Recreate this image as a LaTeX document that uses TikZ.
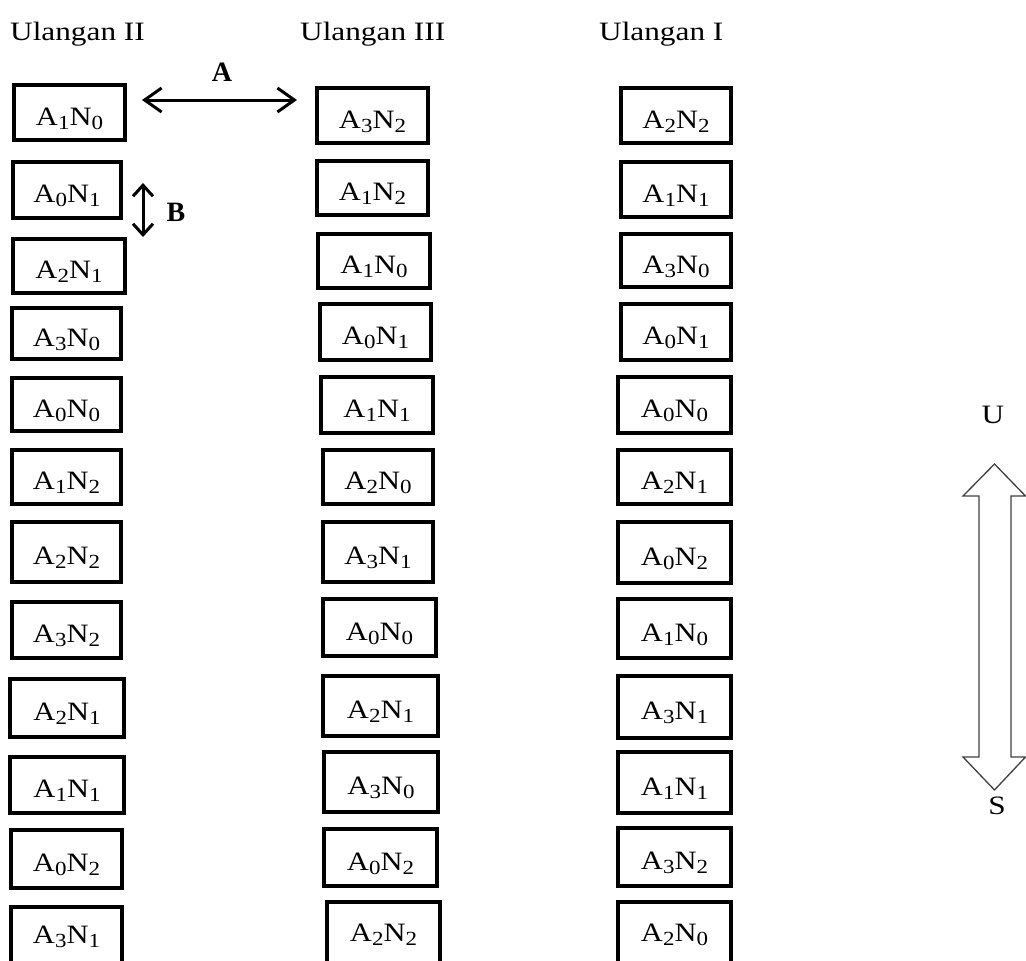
\documentclass[tikz,border=0pt]{standalone}
\usepackage{fontspec}
\setmainfont{Liberation Serif}
\usetikzlibrary{arrows.meta,calc}
\newcommand\subx[1]{\raisebox{-4pt}{\fontsize{20}{21}\selectfont #1}}
\newcommand\AN[2]{\scalebox{1.15}[1]{A\subx{#1}N\subx{#2}}}
\newcommand\cellbox[7][]{\node[cell,minimum width={(#4-#3-3.6)*1pt},minimum height={(#6-#5-3.6)*1pt},#1] (#2) at ({(#3+#4)/2},{(#5+#6)/2}) {#7};}
\tikzset{
  cell/.style={draw, line width=3.6pt, inner sep=0pt, text height=25pt, text depth=0pt, font=\fontsize{26.5}{30}\selectfont},
  lastcell/.style={text height=14pt},
  ttl/.style={inner sep=0pt, anchor=base west, font=\fontsize{26.5}{30}\selectfont},
  side/.style={inner sep=0pt, font=\fontsize{26.5}{30}\selectfont},
  boldlbl/.style={inner sep=0pt, font=\fontsize{28}{32}\selectfont\bfseries},
  dimarrowA/.style={line width=3pt, {Straight Barb[length=17pt,width=24pt]}-{Straight Barb[length=17pt,width=24pt]}},
  dimarrowB/.style={line width=3pt, {Straight Barb[length=11pt,width=20pt]}-{Straight Barb[length=11pt,width=20pt]}},
  hollow/.style={line width=1.3pt, draw=black!75, line join=miter}
}
\begin{document}
\begin{tikzpicture}[x=1pt,y=-1pt]
\useasboundingbox (0,0) rectangle (1026,961);
\clip (0,0) rectangle (1026,961);
\fill[white] (0,0) rectangle (1026,961);
% titles
\node[ttl] (t1) at (10,40) {\scalebox{1.18}[1]{Ulangan II}};
\node[ttl] (t2) at (300,40) {\scalebox{1.18}[1]{Ulangan III}};
\node[ttl] (t3) at (599,40) {\scalebox{1.18}[1]{Ulangan I}};
% column 1
\cellbox{c1r1}{12}{127}{83}{142}{\AN10}
\cellbox{c1r2}{11}{123}{160}{220}{\AN01}
\cellbox{c1r3}{11}{127}{237}{295}{\AN21}
\cellbox{c1r4}{10}{123}{306}{361}{\AN30}
\cellbox{c1r5}{10}{123}{376}{433}{\AN00}
\cellbox{c1r6}{10}{123}{448}{506}{\AN12}
\cellbox{c1r7}{10}{123}{520}{584}{\AN22}
\cellbox{c1r8}{10}{123}{600}{660}{\AN32}
\cellbox{c1r9}{8}{126}{677}{739}{\AN21}
\cellbox{c1r10}{8}{126}{755}{815}{\AN11}
\cellbox{c1r11}{9}{124}{828}{890}{\AN02}
\cellbox[lastcell]{c1r12}{9}{124}{905}{968}{\AN31}
% column 2
\cellbox{c2r1}{315}{430}{86}{145}{\AN32}
\cellbox{c2r2}{315}{430}{159}{217}{\AN12}
\cellbox{c2r3}{316}{432}{232}{290}{\AN10}
\cellbox{c2r4}{318}{433}{302}{362}{\AN01}
\cellbox{c2r5}{319}{435}{375}{435}{\AN11}
\cellbox{c2r6}{321}{435}{448}{506}{\AN20}
\cellbox{c2r7}{321}{435}{520}{584}{\AN31}
\cellbox{c2r8}{321}{438}{597}{658}{\AN00}
\cellbox{c2r9}{321}{440}{674}{738}{\AN21}
\cellbox{c2r10}{322}{440}{750}{814}{\AN30}
\cellbox{c2r11}{322}{439}{827}{888}{\AN02}
\cellbox[lastcell]{c2r12}{325}{442}{900}{968}{\AN22}
% column 3
\cellbox{c3r1}{619}{733}{86}{145}{\AN22}
\cellbox{c3r2}{619}{733}{160}{219}{\AN11}
\cellbox{c3r3}{619}{733}{232}{289}{\AN30}
\cellbox{c3r4}{619}{733}{302}{362}{\AN01}
\cellbox{c3r5}{616}{733}{375}{435}{\AN00}
\cellbox{c3r6}{616}{733}{448}{506}{\AN21}
\cellbox{c3r7}{616}{733}{520}{585}{\AN02}
\cellbox{c3r8}{616}{733}{597}{660}{\AN10}
\cellbox{c3r9}{616}{733}{674}{740}{\AN31}
\cellbox{c3r10}{616}{733}{750}{815}{\AN11}
\cellbox{c3r11}{616}{733}{826}{888}{\AN32}
\cellbox[lastcell]{c3r12}{616}{733}{900}{968}{\AN20}
% dimension arrows
\coordinate (aL) at (142,100);
\coordinate (aR) at (297,100);
\draw[dimarrowA] (aL) -- (aR);
\node[boldlbl] (lblA) at (222,72) {A};
\coordinate (bT) at (143,183);
\coordinate (bB) at (143,237);
\draw[dimarrowB] (bT) -- (bB);
\node[boldlbl] (lblB) at (176,212) {B};
% north-south
\node[side] (lU) at (993,415) {\scalebox{1.18}[1]{U}};
\node[side] (lS) at (997,806) {\scalebox{1.18}[1]{S}};
\draw[hollow] (994.5,464) -- (1025.5,496) -- (1011,496) -- (1011,757) -- (1025.5,757)
  -- (994.5,790) -- (963,757) -- (979,757) -- (979,496) -- (963,496) -- cycle;
\end{tikzpicture}
\end{document}
